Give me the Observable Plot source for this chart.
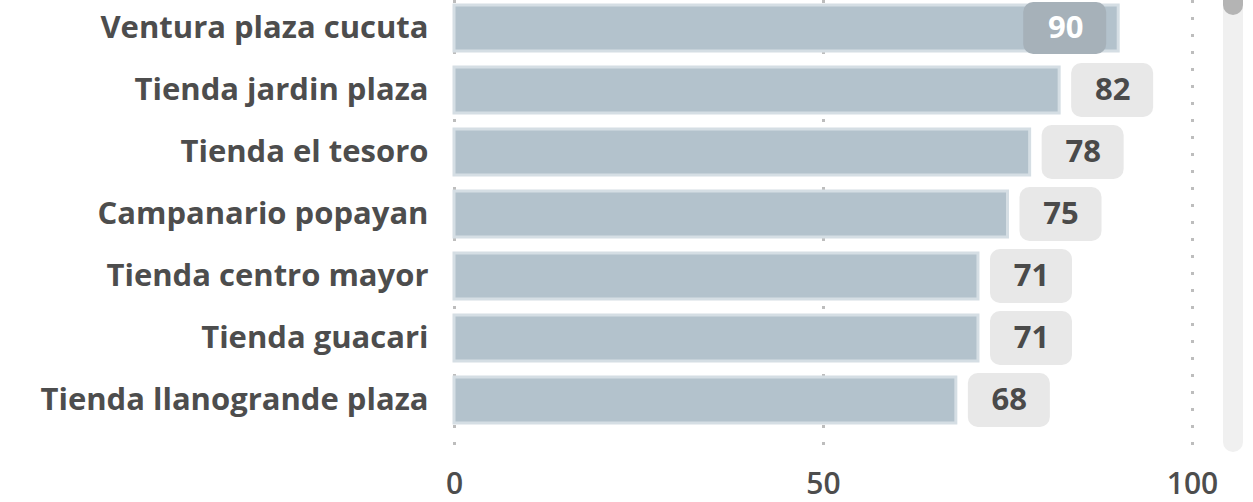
<!DOCTYPE html>
<html>
<head>
<meta charset="utf-8">
<script src="https://cdn.jsdelivr.net/npm/d3@7"></script>
<script src="https://cdn.jsdelivr.net/npm/@observablehq/plot@0.6"></script>
<style>
  html, body { margin: 0; padding: 0; background: #fff; }
  #wrap { position: relative; width: 1253px; height: 502px; overflow: hidden; }
  #track { position: absolute; left: 1223px; top: 0; width: 20px; height: 452px; background: #f0f0f0; border-radius: 0 0 10px 10px; }
  #thumb { position: absolute; left: 1223px; top: -10px; width: 20px; height: 25px; background: #b4b4b4; border-radius: 10px; }
</style>
</head>
<body>
<div id="wrap"></div>
<script>
const stores = [
  "Ventura plaza cucuta",
  "Tienda jardin plaza",
  "Tienda el tesoro",
  "Campanario popayan",
  "Tienda centro mayor",
  "Tienda guacari",
  "Tienda llanogrande plaza"
];
const scores = [90, 82, 78, 75, 71, 71, 68];
const xTicks = [0, 50, 100];

const data = stores.map((name, i) => ({name, value: scores[i]}));
const maxV = d3.max(scores);
const inside = data.filter(d => d.value === maxV);
const outside = data.filter(d => d.value !== maxV);

const font = "'Open Sans', 'Segoe UI', sans-serif";

const chart = Plot.plot({
  width: 1253,
  height: 502,
  marginLeft: 454,
  marginRight: 61,
  marginTop: 0,
  marginBottom: 50,
  style: {fontFamily: font, background: "#fff"},
  x: {domain: [0, 100]},
  y: {domain: stores, range: [0, 427], paddingInner: 0.265, paddingOuter: 0.05},
  marks: [
    Plot.ruleX(xTicks, {stroke: "#bdbdbd", strokeWidth: 3, strokeDasharray: "3,14"}),
    Plot.barX(data, {x: "value", y: "name", fill: "#b3c2cc", stroke: "#d5dee4", strokeWidth: 3}),
    Plot.barX(outside, {x1: "value", x2: "value", y: "name", fill: "#e8e8e8", rx: 10,
      insetLeft: 12, insetRight: -94, insetTop: -4, insetBottom: -4}),
    Plot.barX(inside, {x1: "value", x2: "value", y: "name", fill: "#a6b1b9", rx: 10,
      insetLeft: -95, insetRight: 12, insetTop: -3, insetBottom: -3}),
    Plot.text(outside, {x: "value", y: "name", text: d => String(d.value), dx: 53,
      fill: "#4a4a4a", fontSize: 31, fontWeight: 700}),
    Plot.text(inside, {x: "value", y: "name", text: d => String(d.value), dx: -53,
      fill: "#ffffff", fontSize: 31, fontWeight: 700}),
    Plot.axisY({tickSize: 0, tickPadding: 26, fontSize: 31, fontWeight: 700, fill: "#4d4d4d", label: null}),
    Plot.axisX({ticks: xTicks, tickSize: 0, tickPadding: 20, fontSize: 30, fontWeight: 600, fill: "#4d4d4d", label: null, tickFormat: d3.format("d")})
  ]
});

const wrap = document.getElementById("wrap");
wrap.appendChild(chart);
const track = document.createElement("div"); track.id = "track"; wrap.appendChild(track);
const thumb = document.createElement("div"); thumb.id = "thumb"; wrap.appendChild(thumb);
</script>
</body>
</html>
